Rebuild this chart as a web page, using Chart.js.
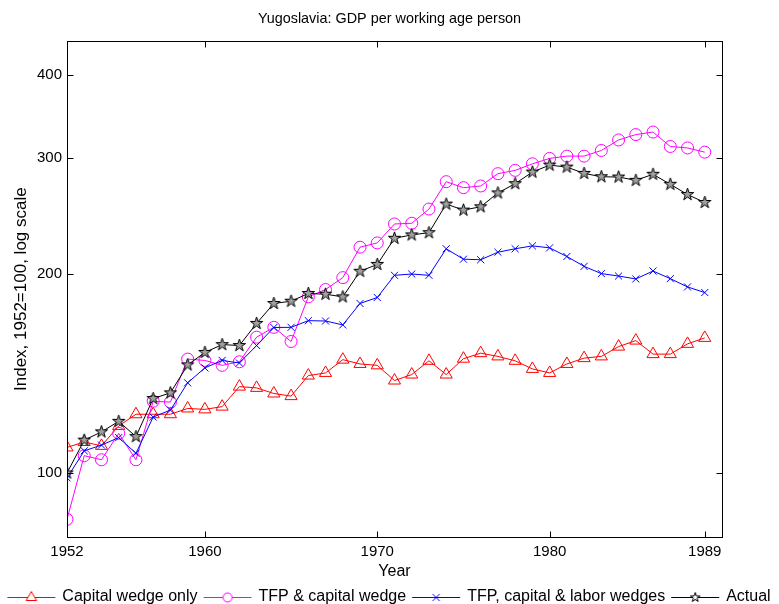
<!DOCTYPE html>
<html>
<head>
<meta charset="utf-8">
<script src="https://cdn.jsdelivr.net/npm/chart.js@4.4.1/dist/chart.umd.min.js"></script>
<style>
  html, body { margin: 0; padding: 0; background: #fff; }
  #wrap { width: 779px; height: 604px; position: relative; }
</style>
</head>
<body>
<div id="wrap"><canvas id="gdpChart"></canvas></div>
<script>
// values (index, 1952 = 100)
const years = [1952, 1953, 1954, 1955, 1956, 1957, 1958, 1959, 1960, 1961,
  1962, 1963, 1964, 1965, 1966, 1967, 1968, 1969, 1970, 1971,
  1972, 1973, 1974, 1975, 1976, 1977, 1978, 1979, 1980, 1981,
  1982, 1983, 1984, 1985, 1986, 1987, 1988, 1989];

const capitalWedge = [109.3, 111.4, 109.9, 117.8, 122.7, 122.7, 122.7, 125.2, 124.8, 126.0,
  135.1, 134.5, 131.9, 130.7, 140.4, 141.7, 148.4, 146.2, 145.5, 138.0,
  140.9, 147.8, 140.9, 148.9, 151.8, 150.1, 147.8, 143.7, 141.7, 146.2,
  149.2, 150.1, 155.3, 158.6, 151.3, 151.3, 156.8, 160.1];

const tfpCapital = [85.1, 106.2, 104.7, 114.8, 104.7, 128.4, 128.0, 148.7, 148.0, 145.5,
  147.3, 160.5, 166.1, 158.1, 184.7, 189.5, 197.5, 219.6, 222.9, 238.1,
  238.7, 250.8, 275.9, 270.2, 271.8, 283.7, 287.0, 293.6, 299.2, 301.6,
  301.6, 307.6, 319.1, 325.1, 328.0, 311.9, 310.3, 305.8];

const tfpCapitalLabor = [98.3, 108.0, 110.2, 113.1, 107.1, 121.5, 124.5, 136.9, 144.2, 148.0,
  146.7, 155.9, 166.0, 166.1, 170.0, 169.8, 167.5, 180.5, 184.3, 199.1,
  200.0, 199.1, 218.4, 210.6, 210.2, 215.8, 218.4, 220.6, 219.1, 212.6,
  205.4, 200.3, 198.6, 196.6, 202.1, 196.8, 191.2, 187.5];

const actual = [100.0, 112.1, 115.4, 119.7, 113.5, 129.6, 132.2, 145.7, 152.2, 156.4,
  155.9, 168.4, 180.5, 181.9, 186.9, 186.4, 184.7, 201.9, 206.8, 226.5,
  229.2, 231.0, 255.2, 249.9, 252.8, 265.3, 274.0, 285.3, 292.3, 290.3,
  284.0, 280.7, 280.4, 277.2, 283.1, 273.4, 263.8, 256.6];

const xTicks = [1952, 1960, 1970, 1980, 1989];
const yTicks = [100, 200, 300, 400];

const FONT = "'Liberation Sans', Arial, Helvetica, sans-serif";

// matlab style pentagram marker
function starPath(ctx, cx, cy, R) {
  const r = R * 0.382;
  ctx.beginPath();
  for (let i = 0; i < 10; i++) {
    const a = -Math.PI / 2 + i * Math.PI / 5;
    const rad = i % 2 ? r : R;
    const px = cx + Math.cos(a) * rad;
    const py = cy + Math.sin(a) * rad;
    if (i === 0) ctx.moveTo(px, py); else ctx.lineTo(px, py);
  }
  ctx.closePath();
}

function makeStar(R) {
  const c = document.createElement('canvas');
  const s = Math.ceil(R * 2 + 4);
  c.width = s; c.height = s;
  const ctx = c.getContext('2d');
  starPath(ctx, s / 2, s / 2, R);
  ctx.fillStyle = '#a0a0a0';
  ctx.fill();
  ctx.strokeStyle = '#000';
  ctx.lineWidth = 1;
  ctx.stroke();
  return c;
}

function drawMarker(ctx, kind, cx, cy, color) {
  ctx.strokeStyle = color;
  ctx.lineWidth = 1;
  if (kind === 'triangle') {
    const r = 6;
    ctx.beginPath();
    ctx.moveTo(cx, cy - r);
    ctx.lineTo(cx + r * 0.866, cy + r * 0.5);
    ctx.lineTo(cx - r * 0.866, cy + r * 0.5);
    ctx.closePath();
    ctx.fillStyle = '#fff';
    ctx.fill();
    ctx.stroke();
  } else if (kind === 'circle') {
    ctx.beginPath();
    ctx.arc(cx, cy, 4.5, 0, Math.PI * 2);
    ctx.fillStyle = '#fff';
    ctx.fill();
    ctx.stroke();
  } else if (kind === 'cross') {
    ctx.beginPath();
    ctx.moveTo(cx - 3.5, cy - 3.5); ctx.lineTo(cx + 3.5, cy + 3.5);
    ctx.moveTo(cx + 3.5, cy - 3.5); ctx.lineTo(cx - 3.5, cy + 3.5);
    ctx.stroke();
  } else {
    starPath(ctx, cx, cy, 5);
    ctx.fillStyle = '#fff';
    ctx.fill();
    ctx.stroke();
  }
}

function legendIcon(kind, color) {
  const c = document.createElement('canvas');
  c.width = 50; c.height = 16;
  const ctx = c.getContext('2d');
  ctx.strokeStyle = color;
  ctx.lineWidth = 1;
  ctx.beginPath();
  ctx.moveTo(1, 8.5); ctx.lineTo(49, 8.5);
  ctx.stroke();
  drawMarker(ctx, kind, 25, 8.5, color);
  return c;
}

const seriesNames = ['Capital wedge only', 'TFP & capital wedge', 'TFP, capital & labor wedges', 'Actual'];
const seriesColors = ['#ff0000', '#ff00ff', '#0000ff', '#000000'];
const seriesKinds = ['triangle', 'circle', 'cross', 'star'];

// inward tick marks and box, matlab look
const boxTicks = {
  id: 'boxTicks',
  afterDatasetsDraw(chart) {
    const { ctx, chartArea: a, scales } = chart;
    const L = Math.round(a.left) + 0.5, R = Math.round(a.right) + 0.5;
    const T = Math.round(a.top) + 0.5, B = Math.round(a.bottom) + 0.5;
    ctx.save();
    ctx.strokeStyle = '#000';
    ctx.lineWidth = 1;
    ctx.strokeRect(L, T, R - L, B - T);
    ctx.beginPath();
    xTicks.forEach(v => {
      const px = Math.round(scales.x.getPixelForValue(v)) + 0.5;
      ctx.moveTo(px, B); ctx.lineTo(px, B - 6);
      ctx.moveTo(px, T); ctx.lineTo(px, T + 6);
    });
    yTicks.forEach(v => {
      const py = Math.round(scales.y.getPixelForValue(v)) + 0.5;
      ctx.moveTo(L, py); ctx.lineTo(L + 6, py);
      ctx.moveTo(R, py); ctx.lineTo(R - 6, py);
    });
    ctx.stroke();
    ctx.restore();
  }
};

const datasets = [capitalWedge, tfpCapital, tfpCapitalLabor, actual].map((vals, i) => ({
  label: seriesNames[i],
  data: vals,
  borderColor: seriesColors[i],
  borderWidth: 1,
  pointBorderColor: seriesColors[i],
  pointBackgroundColor: 'rgba(0,0,0,0)',
  pointBorderWidth: 1,
  pointStyle: ['triangle', 'circle', 'crossRot', makeStar(6.5)][i],
  pointRadius: [7, 6, 5, 6][i],
  pointHoverRadius: [7, 6, 5, 6][i],
  tension: 0,
  order: 3 - i
}));

const ctx = document.getElementById('gdpChart').getContext('2d');
new Chart(ctx, {
  type: 'line',
  data: { labels: years, datasets },
  options: {
    responsive: true,
    maintainAspectRatio: false,
    animation: false,
    layout: { padding: { top: 0, left: 0, right: 0, bottom: 0 } },
    plugins: {
      tooltip: { enabled: false },
      title: {
        display: true,
        text: 'Yugoslavia: GDP per working age person',
        color: '#000',
        font: { family: FONT, size: 14.4, weight: 'normal' },
        padding: { top: 10, bottom: 14 }
      },
      legend: {
        position: 'bottom',
        maxHeight: 22,
        labels: {
          usePointStyle: true,
          pointStyleWidth: 46,
          boxHeight: 16,
          padding: 7,
          color: '#000',
          font: { family: FONT, size: 16 },
          generateLabels: () => seriesNames.map((name, i) => ({
            text: name,
            pointStyle: legendIcon(seriesKinds[i], seriesColors[i]),
            fillStyle: 'rgba(0,0,0,0)',
            strokeStyle: 'rgba(0,0,0,0)',
            lineWidth: 0,
            fontColor: '#000',
            hidden: false,
            datasetIndex: i
          }))
        }
      }
    },
    scales: {
      x: {
        type: 'linear',
        min: 1952,
        max: 1990,
        afterBuildTicks: s => { s.ticks = xTicks.map(v => ({ value: v })); },
        afterFit: s => { s.height = 45; },
        grid: { display: false, drawTicks: false },
        border: { display: false },
        ticks: {
          color: '#000',
          padding: 6,
          maxRotation: 0,
          autoSkip: false,
          font: { family: FONT, size: 15 },
          callback: v => String(v)
        },
        title: {
          display: true,
          text: 'Year',
          color: '#000',
          padding: { top: 0, bottom: 1 },
          font: { family: FONT, size: 16 }
        }
      },
      y: {
        type: 'logarithmic',
        min: 80,
        max: 450,
        afterBuildTicks: s => { s.ticks = yTicks.map(v => ({ value: v })); },
        afterFit: s => { s.width = 67; },
        grid: { display: false, drawTicks: false },
        border: { display: false },
        ticks: {
          color: '#000',
          padding: 5,
          autoSkip: false,
          font: { family: FONT, size: 15 },
          callback: v => String(v)
        },
        title: {
          display: true,
          text: 'Index, 1952=100, log scale',
          color: '#000',
          padding: { top: 11, bottom: 0 },
          font: { family: FONT, size: 17 }
        }
      },
      yr: {
        position: 'right',
        display: true,
        afterFit: s => { s.width = 57; },
        grid: { display: false, drawTicks: false },
        border: { display: false },
        ticks: { display: false }
      }
    }
  },
  plugins: [boxTicks]
});
</script>
</body>
</html>
